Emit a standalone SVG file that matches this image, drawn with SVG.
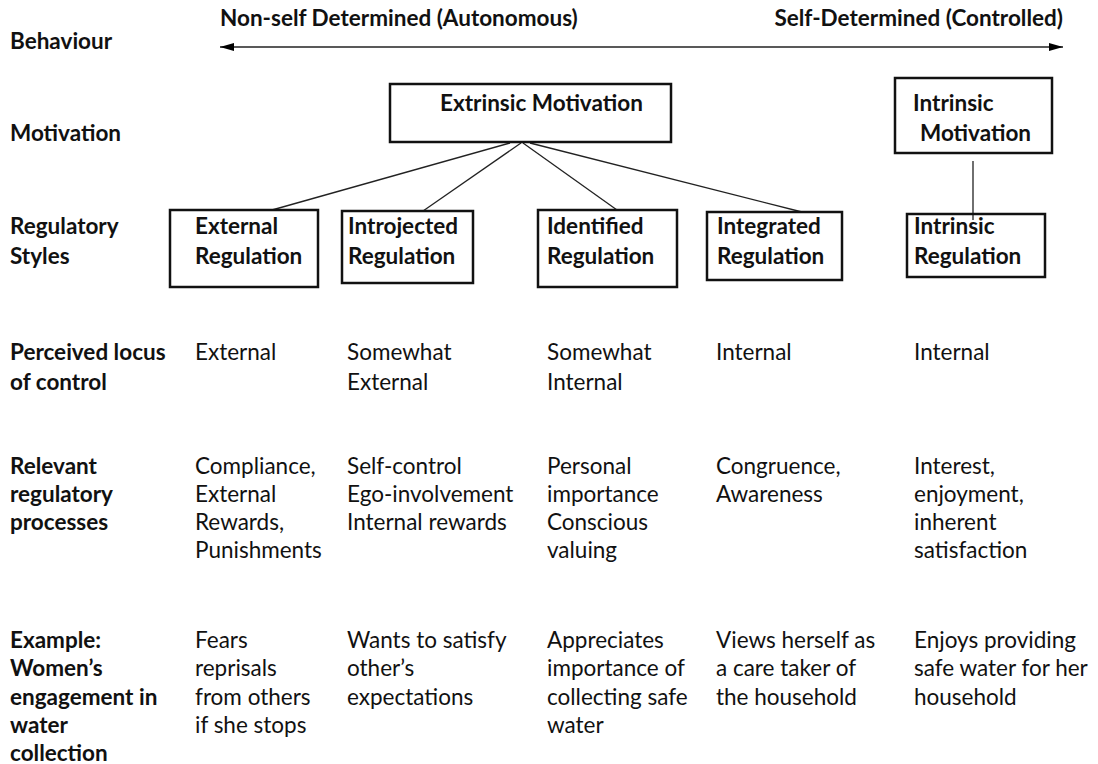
<svg xmlns="http://www.w3.org/2000/svg" width="1098" height="764" viewBox="0 0 1098 764">
<defs>
<marker id="ah" markerWidth="16" markerHeight="10" refX="14" refY="5" orient="auto-start-reverse" markerUnits="userSpaceOnUse">
<path d="M0,1 L14,5 L0,9 Z" fill="#000"/>
</marker>
<style>
text{font-family:Lato,"Open Sans",sans-serif;font-size:22.5px;fill:#111}
.b{font-weight:bold}
.box{fill:none;stroke:#111;stroke-width:2.5}
.ln{stroke:#222;stroke-width:1.3;fill:none}
</style>
</defs>
<rect width="1098" height="764" fill="#fff"/>

<g id="labels">
<text class="b" x="10" y="49">Behaviour</text>
<text class="b" x="10" y="141">Motivation</text>
<text class="b" x="10" y="234">Regulatory<tspan x="10" y="264">Styles</tspan></text>
<text class="b" x="10" y="360">Perceived locus<tspan x="10" y="390">of control</tspan></text>
<text class="b" x="10" y="474">Relevant<tspan x="10" y="502">regulatory</tspan><tspan x="10" y="530">processes</tspan></text>
<text class="b" x="10" y="648">Example:<tspan x="10" y="676">Women’s</tspan><tspan x="10" y="705">engagement in</tspan><tspan x="10" y="733">water</tspan><tspan x="10" y="761">collection</tspan></text>
</g>

<g id="behaviour-axis">
<text class="b" x="220" y="26">Non-self Determined (Autonomous)</text>
<text class="b" x="1063" y="26" text-anchor="end">Self-Determined (Controlled)</text>
</g>

<g id="connectors">
<line class="ln" x1="220" y1="47" x2="1063" y2="47" marker-start="url(#ah)" marker-end="url(#ah)"/>
<line class="ln" x1="510" y1="143" x2="272" y2="210"/>
<line class="ln" x1="521" y1="143" x2="423" y2="211"/>
<line class="ln" x1="523" y1="143" x2="617" y2="210"/>
<line class="ln" x1="530" y1="143" x2="802" y2="212"/>
<line class="ln" x1="973" y1="161" x2="973" y2="220"/>
</g>

<g id="extrinsic-motivation">
<rect class="box" x="390" y="84" width="281" height="58"/>
<text class="b" x="440" y="111">Extrinsic Motivation</text>
</g>
<g id="intrinsic-motivation">
<rect class="box" x="895" y="78" width="157" height="75"/>
<text class="b" x="913" y="111">Intrinsic<tspan x="920" y="141">Motivation</tspan></text>
</g>

<g id="external-regulation">
<rect class="box" x="170" y="210" width="148" height="77"/>
<text class="b" x="195" y="234">External<tspan x="195" y="264">Regulation</tspan></text>
</g>
<g id="introjected-regulation">
<rect class="box" x="342" y="211" width="131" height="72"/>
<text class="b" x="348" y="234">Introjected<tspan x="348" y="264">Regulation</tspan></text>
</g>
<g id="identified-regulation">
<rect class="box" x="538" y="210" width="139" height="77"/>
<text class="b" x="547" y="234">Identified<tspan x="547" y="264">Regulation</tspan></text>
</g>
<g id="integrated-regulation">
<rect class="box" x="707" y="212" width="135" height="68"/>
<text class="b" x="717" y="234">Integrated<tspan x="717" y="264">Regulation</tspan></text>
</g>
<g id="intrinsic-regulation">
<rect class="box" x="907" y="214" width="138" height="63"/>
<text class="b" x="914" y="234">Intrinsic<tspan x="914" y="264">Regulation</tspan></text>
</g>

<g id="locus">
<text x="195" y="360">External</text>
<text x="347" y="360">Somewhat<tspan x="347" y="390">External</tspan></text>
<text x="547" y="360">Somewhat<tspan x="547" y="390">Internal</tspan></text>
<text x="716" y="360">Internal</text>
<text x="914" y="360">Internal</text>
</g>

<g id="processes">
<text x="195" y="474">Compliance,<tspan x="195" y="502">External</tspan><tspan x="195" y="530">Rewards,</tspan><tspan x="195" y="558">Punishments</tspan></text>
<text x="347" y="474">Self-control<tspan x="347" y="502">Ego-involvement</tspan><tspan x="347" y="530">Internal rewards</tspan></text>
<text x="547" y="474">Personal<tspan x="547" y="502">importance</tspan><tspan x="547" y="530">Conscious</tspan><tspan x="547" y="558">valuing</tspan></text>
<text x="716" y="474">Congruence,<tspan x="716" y="502">Awareness</tspan></text>
<text x="914" y="474">Interest,<tspan x="914" y="502">enjoyment,</tspan><tspan x="914" y="530">inherent</tspan><tspan x="914" y="558">satisfaction</tspan></text>
</g>

<g id="examples">
<text x="195" y="648">Fears<tspan x="195" y="676">reprisals</tspan><tspan x="195" y="705">from others</tspan><tspan x="195" y="733">if she stops</tspan></text>
<text x="347" y="648">Wants to satisfy<tspan x="347" y="676">other’s</tspan><tspan x="347" y="705">expectations</tspan></text>
<text x="547" y="648">Appreciates<tspan x="547" y="676">importance of</tspan><tspan x="547" y="705">collecting safe</tspan><tspan x="547" y="733">water</tspan></text>
<text x="716" y="648">Views herself as<tspan x="716" y="676">a care taker of</tspan><tspan x="716" y="705">the household</tspan></text>
<text x="914" y="648">Enjoys providing<tspan x="914" y="676">safe water for her</tspan><tspan x="914" y="705">household</tspan></text>
</g>
</svg>
